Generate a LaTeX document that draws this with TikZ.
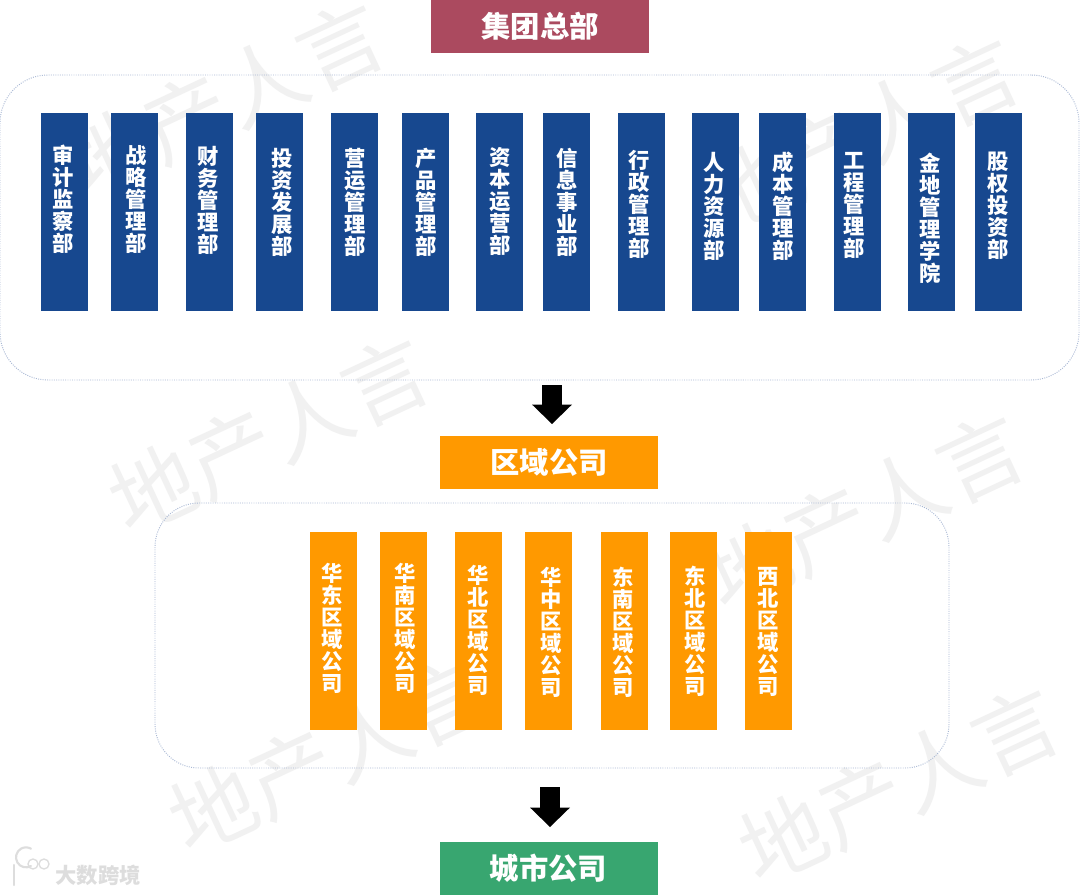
\documentclass[tikz,border=0pt]{standalone}
\usepackage{fontspec}
\setmainfont{Noto Sans CJK SC}
\newfontfamily\cjkb{Noto Sans CJK SC Bold}[BoldFont={Noto Sans CJK SC Bold}]
\usetikzlibrary{arrows.meta}
\definecolor{deptblue}{HTML}{17488F}
\definecolor{regorange}{HTML}{FF9900}
\definecolor{hqred}{HTML}{AB4A5F}
\definecolor{citygreen}{HTML}{38A670}
\definecolor{panelline}{HTML}{A8B8D4}
\definecolor{wmgrey}{HTML}{F1F1F1}
\definecolor{logogrey}{HTML}{DDDDDD}
\tikzset{
  px/.style={x=0.75pt,y=-0.75pt},
  panel/.style={draw=panelline,densely dotted,line width=0.7pt,rounded corners=36pt},
  headbox/.style={rectangle,minimum width=163.5pt,minimum height=39.75pt,inner sep=0pt,text=white,font=\fontsize{22}{24}\selectfont\bfseries},
  colbox/.style={rectangle,minimum width=35.25pt,minimum height=148.5pt,inner sep=0pt},
  coltext/.style={text=white,align=center,inner sep=0pt,font=\fontsize{16}{16.5}\selectfont\bfseries},
  blockarrow/.style={line width=15pt,-{Triangle[length=14.6pt,width=30pt,line width=0pt]},shorten >=0pt},
  watermark/.style={text=wmgrey,rotate=25,inner sep=0pt,font=\fontsize{64}{66}\selectfont},
}
\begin{document}
\begin{tikzpicture}[px]
\useasboundingbox (0,0) rectangle (1080,895);
\fill[white] (0,0) rectangle (1080,895);
% watermarks
\foreach \i/\x/\y in {1/225/100,2/860/135,3/270/435,4/865/512,5/330/755,6/900/785}
  \node[watermark] (wm\i) at (\x,\y) {地产人言};
% panels
\node[panel,rectangle,minimum width=809.25pt,minimum height=228.75pt,inner sep=0pt] (hqpanel) at (539.5,227.5) {};
\node[panel,rectangle,rounded corners=33pt,minimum width=595.5pt,minimum height=198.75pt,inner sep=0pt] (regpanel) at (552,635.5) {};
% header boxes
\node[headbox,fill=hqred] (hq) at (540,26.5) {集团总部};
\node[headbox,fill=regorange] (region) at (549,462.5) {区域公司};
\node[headbox,fill=citygreen] (city) at (548.5,868.5) {城市公司};
% arrows
\coordinate (a1s) at (552,385);
\coordinate (a1e) at (552,424);
\coordinate (a2s) at (550,787);
\coordinate (a2e) at (550,827);
\draw[blockarrow] (a1s) -- (a1e);
\draw[blockarrow] (a2s) -- (a2e);
% departments: index / box left / text x / text centre y / text
\foreach \i/\l/\x/\y/\t in {
 1/41/63.5/199.5/{审\\计\\监\\察\\部},
 2/111/136/199.5/{战\\略\\管\\理\\部},
 3/186/208/200.5/{财\\务\\管\\理\\部},
 4/256/282/202.5/{投\\资\\发\\展\\部},
 5/331/355/202.5/{营\\运\\管\\理\\部},
 6/401.5/426/202.5/{产\\品\\管\\理\\部},
 7/476/500/202/{资\\本\\运\\营\\部},
 8/543/567/202.5/{信\\息\\事\\业\\部},
 9/618/639/204.5/{行\\政\\管\\理\\部},
 10/692/714/206/{人\\力\\资\\源\\部},
 11/759/783/206/{成\\本\\管\\理\\部},
 12/834/854/205/{工\\程\\管\\理\\部},
 13/908/930/218/{金\\地\\管\\理\\学\\院},
 14/975/998/206/{股\\权\\投\\资\\部}}
{
  \node[colbox,fill=deptblue] (dept\i) at ({\l+23.5},212) {};
  \node[coltext] (depttext\i) at (\x,\y) {\t};
}
% regional companies
\foreach \i/\l/\x/\y/\t in {
 1/310/332/628.5/{华\\东\\区\\域\\公\\司},
 2/380/405/628/{华\\南\\区\\域\\公\\司},
 3/455/478/630.5/{华\\北\\区\\域\\公\\司},
 4/525/551/632/{华\\中\\区\\域\\公\\司},
 5/600.5/623/632/{东\\南\\区\\域\\公\\司},
 6/670/695/631.5/{东\\北\\区\\域\\公\\司},
 7/745/768/631.5/{西\\北\\区\\域\\公\\司}}
{
  \node[colbox,fill=regorange] (reg\i) at ({\l+23.5},630.5) {};
  \node[coltext] (regtext\i) at (\x,\y) {\t};
}
% logo mark
\draw[logogrey,line width=1.6pt,line cap=round] (14,865) -- (14,885);
\draw[logogrey,line width=1.6pt,line cap=round] (31,866) arc (60:300:10);
\draw[logogrey,line width=1pt] (33,864) circle (5);
\draw[logogrey,line width=1pt] (44,864) circle (5);
\node[text=logogrey,inner sep=0pt,font=\fontsize{16}{18}\selectfont\bfseries] (logo) at (98,875) {大数跨境};
\end{tikzpicture}
\end{document}
